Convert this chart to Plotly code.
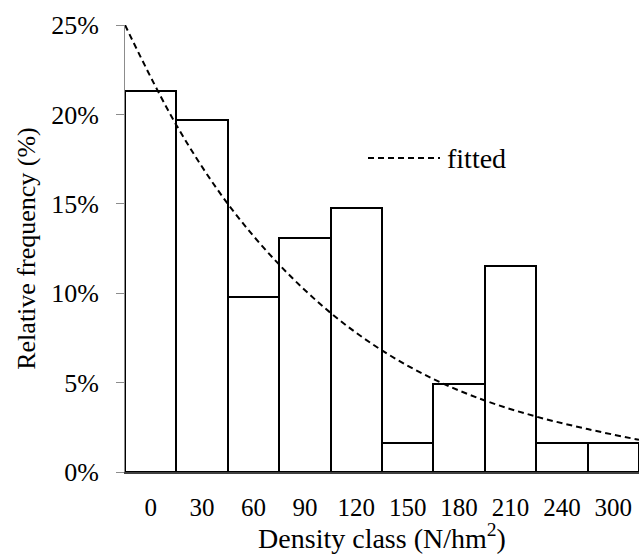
import plotly.graph_objects as go

categories = ["0", "30", "60", "90", "120", "150", "180", "210", "240", "300"]
rel_freq = [21.3, 19.7, 9.8, 13.1, 14.75, 1.64, 4.9, 11.5, 1.64, 1.64]

# fitted curve read at bin boundaries (positions -0.5 .. 9.5)
fit_x = [-0.5, 0.5, 1.5, 2.5, 3.5, 4.5, 5.5, 6.5, 7.5, 8.5, 9.5]
fit_y = [25.0, 19.4, 15.0, 11.6, 8.9, 6.8, 5.2, 4.0, 3.1, 2.4, 1.8]

y_ticks = [0, 5, 10, 15, 20, 25]
y_ticklabels = ["0%", "5%", "10%", "15%", "20%", "25%"]

font_family = "Liberation Serif"
L, T, W, H = 125, 25, 514, 447

fig = go.Figure()
fig.add_trace(go.Bar(
    x=list(range(len(categories))), y=rel_freq,
    marker=dict(color="white", line=dict(color="black", width=2)),
    showlegend=False,
))
fig.add_trace(go.Scatter(
    x=fit_x, y=fit_y, mode="lines", line_shape="spline",
    line=dict(color="black", width=2, dash="6px,4px"),
    name="fitted", showlegend=False,
))

# legend drawn as dashed line + label
ly = (T + H - 158) / H
fig.add_shape(type="line", xref="paper", yref="paper",
              x0=(368 - L) / W, x1=(440 - L) / W, y0=ly, y1=ly,
              line=dict(color="black", width=2, dash="6px,4px"))
fig.add_annotation(text="fitted", xref="paper", yref="paper",
                   x=(445 - L) / W, y=ly,
                   xanchor="left", yanchor="middle", showarrow=False,
                   font=dict(family=font_family, size=28, color="black"))

fig.update_layout(
    width=639, height=554,
    margin=dict(l=L, r=639 - L - W, t=T, b=554 - T - H, autoexpand=False),
    paper_bgcolor="white", plot_bgcolor="white",
    bargap=0,
    font=dict(family=font_family, size=24, color="black"),
    xaxis=dict(
        range=[-0.5, 9.5], tickmode="array",
        tickvals=list(range(len(categories))), ticktext=categories,
        showgrid=False, zeroline=False, showline=True,
        linecolor="#404040", linewidth=2, ticks="",
        ticklabelstandoff=12,
        title=dict(text="Density class (N/hm<sup>2</sup>)", standoff=0,
                   font=dict(size=28)),
        tickfont=dict(size=25),
    ),
    yaxis=dict(
        range=[0, 25], tickmode="array", tickvals=y_ticks,
        ticktext=y_ticklabels, showgrid=False, zeroline=False,
        showline=True, linecolor="#8c8c8c", linewidth=1,
        ticks="outside", ticklen=8, tickcolor="#8c8c8c",
        ticklabelstandoff=12,
        title=dict(text="Relative frequency (%)", standoff=8,
                   font=dict(size=26)),
        tickfont=dict(size=26),
    ),
)

fig.write_html("out.html", config={"displayModeBar": False},
               post_script="document.body.style.margin='0';")
